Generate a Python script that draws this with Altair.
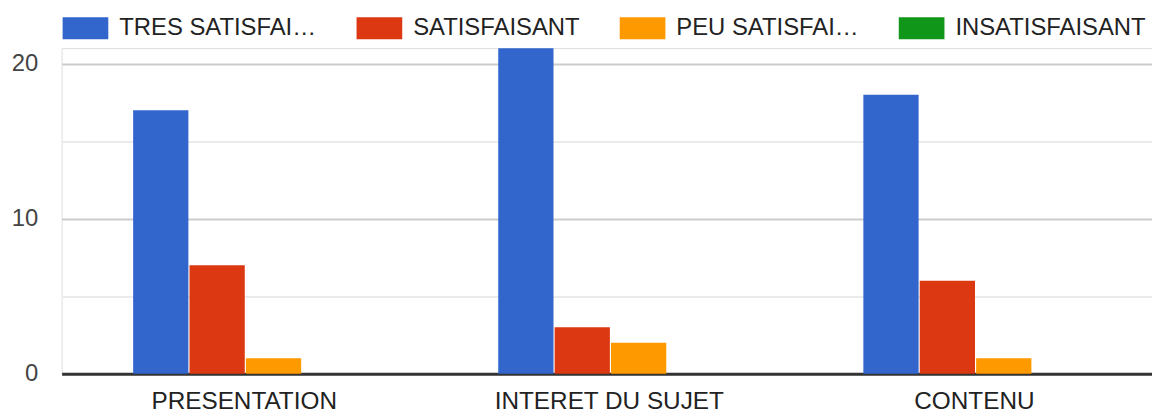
import altair as alt
import pandas as pd

categories = ["PRESENTATION", "INTERET DU SUJET", "CONTENU"]
series = ["TRES SATISFAI…", "SATISFAISANT", "PEU SATISFAI…", "INSATISFAISANT"]
colors = ["#3366cc", "#dc3912", "#ff9900", "#109618"]

tres_satisfaisant = [17, 21, 18]
satisfaisant = [7, 3, 6]
peu_satisfaisant = [1, 2, 1]
insatisfaisant = [0, 0, 0]

y_ticks = [0, 5, 10, 15, 20]

rows = []
for s, vals in zip(series, [tres_satisfaisant, satisfaisant, peu_satisfaisant, insatisfaisant]):
    for c, v in zip(categories, vals):
        rows.append({"categorie": c, "serie": s, "valeur": v})
df = pd.DataFrame(rows)

FONT = "Liberation Sans"

chart = (
    alt.Chart(df)
    .mark_bar()
    .encode(
        x=alt.X(
            "categorie:N",
            sort=categories,
            title=None,
            scale=alt.Scale(paddingInner=0, paddingOuter=0),
            axis=alt.Axis(
                labelAngle=0,
                labelFont=FONT,
                labelFontSize=24.5,
                labelColor="#222222",
                labelPadding=16,
                labelBaseline="top",
                ticks=False,
                tickSize=0,
                domainColor="#333333",
                domainWidth=3,
                grid=False,
                labelLimit=400,
            ),
        ),
        xOffset=alt.XOffset(
            "serie:N",
            sort=series,
            scale=alt.Scale(range=[72, 298], paddingInner=0.02, paddingOuter=0),
        ),
        y=alt.Y(
            "valeur:Q",
            title=None,
            scale=alt.Scale(domain=[0, 21], nice=False, zero=True),
            axis=alt.Axis(
                values=y_ticks,
                labelExpr="datum.value % 10 === 0 ? datum.label : ''",
                labelFont=FONT,
                labelFontSize=24,
                labelColor="#444444",
                labelPadding=24,
                ticks=False,
                domain=False,
                grid=True,
                gridWidth=2,
                gridColor=alt.condition(
                    "datum.value % 10 === 0", alt.value("#cccccc"), alt.value("#ebebeb")
                ),
            ),
        ),
        color=alt.Color(
            "serie:N",
            sort=series,
            scale=alt.Scale(domain=series, range=colors),
            legend=alt.Legend(
                orient="none",
                legendX=1,
                legendY=-43,
                direction="horizontal",
                columns=4,
                title=None,
                symbolType="M-1,-0.478H1V0.478H-1Z",
                symbolSize=2116,
                symbolStrokeWidth=0,
                symbolOpacity=1,
                labelFont=FONT,
                labelFontSize=24,
                labelColor="#222222",
                labelOffset=11,
                columnPadding=40,
                padding=0,
                labelLimit=400,
            ),
        ),
    )
    .properties(
        width=1103,
        height=328,
        autosize=alt.AutoSizeParams(type="none"),
        padding={"left": 54, "top": 39, "right": -5, "bottom": 37},
    )
    .configure_view(stroke=None)
    .configure(background="white")
)

chart.save("out.html", embed_options={"renderer": "svg", "actions": False})
